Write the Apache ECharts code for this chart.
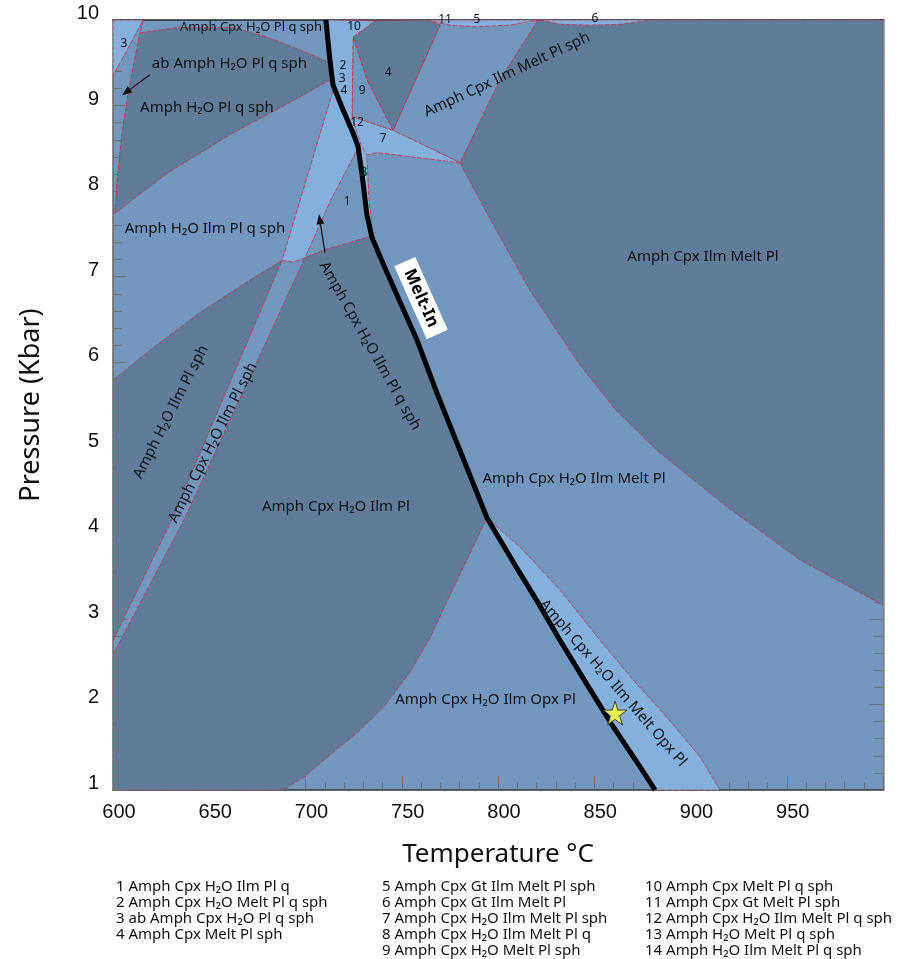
<!DOCTYPE html>
<html><head><meta charset="utf-8">
<script src="https://cdn.jsdelivr.net/npm/echarts@6/dist/echarts.min.js"></script>
<style>html,body{margin:0;padding:0;background:#fff}#c{width:898px;height:959px}</style>
</head><body><div id="c"></div>
<script>
// ---- tick labels ----
const xTickLabels = [600,650,700,750,800,850,900,950];
const yTickLabels = [1,2,3,4,5,6,7,8,9,10];

// ---- melt-in curve [T (°C), P (kbar)] ----
const meltIn = [[710.6,10],[712.7,9.53],[714.3,9.24],[719.5,8.95],[724.7,8.68],[727.3,8.52],[729.4,8.19],[731.9,7.72],[734.5,7.46],[741.3,7.10],[757.9,6.26],[768.3,5.64],[794.3,4.18],[809.4,3.61],[820.8,3.19],[832.2,2.75],[844.7,2.29],[858.7,1.78],[873.8,1.27],[881.6,1.0]];

// ---- phase field outlines [T, P] ----
const fieldAmphCpxIlmMeltPl = [[820.8,10],[801.0,9.30],[780.3,8.33],[794.3,7.74],[816.6,6.84],[841.6,6.00],[861.3,5.44],[882.6,4.97],[919.0,4.31],[956.9,3.69],[1000,3.16],[1000,10]];
const fieldAmphCpxIlmMeltPlSph = [[769.9,9.94],[769.9,10],[820.8,10],[801.0,9.30],[780.3,8.33],[763.1,8.52],[745.5,8.71]];
const field4 = [[724.7,9.80],[736.1,9.99],[763.1,10],[769.9,9.94],[745.5,8.71],[731.9,9.30]];
const field9 = [[724.7,9.80],[731.9,9.30],[745.5,8.71],[724.2,8.87]];
const fieldsNearMelt = [[710.6,10],[736.1,9.99],[724.7,9.80],[724.2,8.87],[745.5,8.71],[763.1,8.52],[780.3,8.33],[737.1,8.45],[731.9,8.42],[733.0,7.90],[735.1,7.46],[731.9,7.72],[729.4,8.19],[727.3,8.52],[724.7,8.68],[719.5,8.95],[714.3,9.24],[712.7,9.53]];
const lens5and11 = [[763.1,10],[775.1,9.94],[788.1,9.92],[806.2,9.94],[820.8,10]];
const lens6 = [[821.8,10],[832.2,9.95],[847.8,9.94],[863.4,9.95],[880.0,10]];
const fieldOpxMelt = [[794.3,4.18],[809.4,3.61],[820.8,3.19],[832.2,2.75],[844.7,2.29],[858.7,1.78],[873.8,1.27],[881.6,1.0],[915.3,1.0],[904.9,1.39],[887.8,1.85],[870.1,2.29],[853.0,2.75],[832.2,3.34],[811.4,3.84]];
const fieldAmphCpxH2OIlmPl = [[734.5,7.46],[741.3,7.10],[757.9,6.26],[768.3,5.64],[794.3,4.18],[785.5,3.77],[775.1,3.28],[764.7,2.78],[754.3,2.38],[741.3,1.99],[728.3,1.70],[712.7,1.41],[699.7,1.16],[688.3,1.0],[600,1],[600,2.58],[636.9,4.16],[668.1,5.68],[699.7,7.22],[709.1,7.31],[721.6,7.39],[731.9,7.46]];
const fieldAmphH2OIlmPlSph = [[600,5.79],[619.2,6.14],[645.2,6.58],[671.2,6.96],[687.8,7.19],[659.2,5.68],[630.6,4.16],[600,2.75]];
const fieldAmphCpxH2OIlmPlQSph = [[687.8,7.19],[693.5,7.17],[699.7,7.22],[713.2,7.90],[726.8,8.48],[724.7,8.68],[719.5,8.95],[714.8,9.21]];
const fieldAmphH2OPlQSph = [[614.0,9.85],[633.2,9.91],[662.3,9.91],[680.0,9.80],[697.1,9.65],[712.7,9.50],[714.3,9.32],[697.1,9.10],[662.3,8.68],[628.1,8.21],[601.0,7.74],[602.1,8.13],[604.7,8.68],[607.3,9.06],[610.4,9.45]];
const field3 = [[600,10],[615.6,10],[608.8,9.71],[601.0,9.39],[600,9.36]];
const extraBoundaries = [[[615.6,10],[614.0,9.85]],[[724.2,8.87],[728.8,8.54],[731.9,8.42]]];

const DARK = '#5f7d9b', MID = '#7197be', LIGHT = '#84b0dd';
const fields = [
  {pts: fieldAmphCpxIlmMeltPl, c: DARK},
  {pts: fieldAmphCpxIlmMeltPlSph, c: MID},
  {pts: field4, c: DARK},
  {pts: field9, c: MID},
  {pts: fieldsNearMelt, c: LIGHT},
  {pts: lens5and11, c: LIGHT},
  {pts: lens6, c: LIGHT},
  {pts: fieldOpxMelt, c: LIGHT},
  {pts: fieldAmphCpxH2OIlmPl, c: DARK},
  {pts: fieldAmphH2OIlmPlSph, c: DARK},
  {pts: fieldAmphCpxH2OIlmPlQSph, c: LIGHT},
  {pts: fieldAmphH2OPlQSph, c: DARK},
  {pts: field3, c: LIGHT}
];

// ---- labels [text, T, P, rotation°, size] ----
const fieldLabels = [
  ['Amph Cpx Ilm Melt Pl', 906.5, 7.23, 0, 15],
  ['Amph Cpx H\u2082O Ilm Melt Pl', 839.5, 4.64, 0, 15],
  ['Amph Cpx H\u2082O Ilm Pl', 715.8, 4.31, 0, 15],
  ['Amph Cpx H\u2082O Ilm Opx Pl', 793.5, 2.06, 0, 15],
  ['Amph H\u2082O Ilm Pl q sph', 647.8, 7.56, 0, 15],
  ['Amph H\u2082O Pl q sph', 648.8, 8.98, 0, 15],
  ['ab Amph H\u2082O Pl q sph', 660.5, 9.49, 0, 15],
  ['Amph Cpx H\u2082O Pl q sph', 671.7, 9.92, 0, 13],
  ['Amph Cpx Ilm Melt Pl sph', 804.7, 9.36, 25, 15],
  ['Amph Cpx H\u2082O Ilm Pl q sph', 733.5, 6.19, -60.5, 15],
  ['Amph H\u2082O Ilm Pl sph', 630.1, 5.42, 63, 15],
  ['Amph Cpx H\u2082O Ilm Pl sph', 651.9, 5.06, 63, 15],
  ['Amph Cpx H\u2082O Ilm Melt Opx Pl', 859.7, 2.25, -49, 15]
];
const numberLabels = [
  ['10',725.2,9.92],['11',772.5,10.01],['5',789.1,10.0],['6',850.4,10.02],['3',605.7,9.73],
  ['2',719.5,9.47],['3',719.0,9.31],['4',720.0,9.17],['9',729.4,9.18],['4',742.9,9.39],
  ['12',726.8,8.80],['7',740.3,8.61],['8',730.4,8.22],['1',721.6,7.88]
];
const meltInLabel = ['Melt-In', 760.0, 6.75, -66];
const arrows = [[[619.2,9.36],[604.7,9.12]], [[710.1,7.28],[707.0,7.73]]];
const starPoint = [[860.8, 1.90]];

const legendCol1 = ['1 Amph Cpx H\u2082O Ilm Pl q','2 Amph Cpx H\u2082O Melt Pl q sph','3 ab Amph Cpx H\u2082O Pl q sph','4 Amph Cpx Melt Pl sph'];
const legendCol2 = ['5 Amph Cpx Gt Ilm Melt Pl sph','6 Amph Cpx Gt Ilm Melt Pl','7 Amph Cpx H\u2082O Ilm Melt Pl sph','8 Amph Cpx H\u2082O Ilm Melt Pl q','9 Amph Cpx H\u2082O Melt Pl sph'];
const legendCol3 = ['10 Amph Cpx Melt Pl q sph','11 Amph Cpx Gt Melt Pl sph','12 Amph Cpx H\u2082O Ilm Melt Pl q sph','13 Amph H\u2082O Melt Pl q sph','14 Amph H\u2082O Ilm Melt Pl q sph'];

const FONT = '"Noto Sans", "DejaVu Sans", sans-serif';
const BORDER = '#c3303f';
const chart = echarts.init(document.getElementById('c'), null, {renderer: 'canvas'});
const STAR = 'path://M50,0 L61.8,35.4 L100,35.4 L69.1,57.3 L80.9,93.3 L50,71.4 L19.1,93.3 L30.9,57.3 L0,35.4 L38.2,35.4 Z';

chart.setOption({
  animation: false,
  grid: {left: 113, top: 20, width: 770, height: 770, show: true, backgroundColor: MID, borderWidth: 0},
  xAxis: [{
    type: 'value', min: 600, max: 1000, interval: 50, position: 'bottom',
    axisLine: {show: true, lineStyle: {color: '#333', width: 1.5}},
    axisTick: {show: true, inside: true, length: 14, lineStyle: {color: '#6d6d6d', width: 1}},
    minorTick: {show: true, splitNumber: 5, length: 8, lineStyle: {color: '#6d6d6d', width: 1}},
    splitLine: {show: false}, minorSplitLine: {show: false},
    axisLabel: {formatter: v => xTickLabels.indexOf(v) >= 0 ? String(v) : '', fontSize: 20, fontFamily: '"Liberation Sans", Arial, sans-serif', color: '#111', margin: 12, padding: [0,0,0,12]},
    name: 'Temperature °C', nameLocation: 'middle', nameGap: 52,
    nameTextStyle: {fontSize: 26, fontFamily: FONT, color: '#111'}
  }, {
    type: 'value', min: 600, max: 1000, position: 'top',
    axisLine: {show: true, lineStyle: {color: '#222', width: 1.5}},
    axisTick: {show: false}, axisLabel: {show: false}, splitLine: {show: false}
  }],
  yAxis: [{
    type: 'value', min: 1, max: 10, interval: 1, position: 'left',
    axisLine: {show: true, lineStyle: {color: '#666', width: 1.5}},
    axisTick: {show: true, inside: true, length: 14, lineStyle: {color: '#6d6d6d', width: 1}},
    minorTick: {show: true, splitNumber: 5, length: 9, lineStyle: {color: '#6d6d6d', width: 1}},
    splitLine: {show: false}, minorSplitLine: {show: false},
    axisLabel: {formatter: v => yTickLabels.indexOf(v) >= 0 ? String(v) : '', fontSize: 20, fontFamily: '"Liberation Sans", Arial, sans-serif', color: '#111', margin: 14, verticalAlign: 'bottom', lineHeight: 13},
    name: 'Pressure (Kbar)', nameLocation: 'middle', nameGap: 68, nameRotate: 90,
    nameTextStyle: {fontSize: 27, fontFamily: FONT, color: '#111'}
  }, {
    type: 'value', min: 1, max: 10, interval: 1, position: 'right',
    axisLine: {show: true, lineStyle: {color: '#888', width: 2.5}},
    axisTick: {show: true, inside: true, length: 14, lineStyle: {color: '#6d6d6d', width: 1}},
    minorTick: {show: true, splitNumber: 5, length: 9, lineStyle: {color: '#6d6d6d', width: 1}},
    axisLabel: {show: false}, splitLine: {show: false}
  }],
  graphic: [
    {type: 'text', left: 116, top: 879, style: {text: legendCol1.join('\n'), font: '15px ' + FONT, fill: '#111', lineHeight: 16}},
    {type: 'text', left: 382, top: 879, style: {text: legendCol2.join('\n'), font: '15px ' + FONT, fill: '#111', lineHeight: 16}},
    {type: 'text', left: 645, top: 879, style: {text: legendCol3.join('\n'), font: '15px ' + FONT, fill: '#111', lineHeight: 16}}
  ],
  series: [
    {
      type: 'custom', name: 'fields', z: 1, clip: true,
      data: fields.map((f, i) => [f.pts[0][0], f.pts[0][1], i]),
      renderItem: (params, api) => {
        const f = fields[api.value(2)];
        return {type: 'polygon', shape: {points: f.pts.map(p => api.coord(p))},
          style: {fill: f.c, stroke: BORDER, lineWidth: 0.8, lineDash: [5, 1.5]}};
      }
    },
    {
      type: 'custom', name: 'boundaries', z: 2, clip: true,
      data: extraBoundaries.map((b, i) => [b[0][0], b[0][1], i]),
      renderItem: (params, api) => {
        const b = extraBoundaries[api.value(2)];
        return {type: 'polyline', shape: {points: b.map(p => api.coord(p))},
          style: {fill: null, stroke: BORDER, lineWidth: 0.8, lineDash: [5, 1.5]}};
      }
    },
    {
      type: 'line', name: 'Melt-In', z: 3, data: meltIn, showSymbol: false, symbol: 'none',
      lineStyle: {color: '#000', width: 5, join: 'round'}, clip: true
    },
    {
      type: 'custom', name: 'arrows', z: 4,
      data: arrows.map((a, i) => [a[0][0], a[0][1], i]),
      renderItem: (params, api) => {
        const a = arrows[api.value(2)];
        const p0 = api.coord(a[0]), p1 = api.coord(a[1]);
        const dx = p1[0] - p0[0], dy = p1[1] - p0[1], L = Math.hypot(dx, dy);
        const ux = dx / L, uy = dy / L, hl = 10, hw = 4;
        const bx = p1[0] - ux * hl, by = p1[1] - uy * hl;
        return {type: 'group', children: [
          {type: 'line', shape: {x1: p0[0], y1: p0[1], x2: bx, y2: by}, style: {stroke: '#1a0d0d', lineWidth: 1.2}},
          {type: 'polygon', shape: {points: [[p1[0], p1[1]], [bx - uy * hw, by + ux * hw], [bx + uy * hw, by - ux * hw]]}, style: {fill: '#1a0d0d'}}
        ]};
      }
    },
    {
      type: 'custom', name: 'fieldLabels', z: 5,
      data: fieldLabels.map((l, i) => [l[1], l[2], i]),
      renderItem: (params, api) => {
        const l = fieldLabels[api.value(2)];
        const p = api.coord([l[1], l[2]]);
        return {type: 'text', x: p[0], y: p[1], rotation: l[3] * Math.PI / 180,
          style: {text: l[0], font: l[4] + 'px ' + FONT, fill: '#111', align: 'center', verticalAlign: 'middle'}};
      }
    },
    {
      type: 'custom', name: 'numberLabels', z: 5,
      data: numberLabels.map((l, i) => [l[1], l[2], i]),
      renderItem: (params, api) => {
        const l = numberLabels[api.value(2)];
        const p = api.coord([l[1], l[2]]);
        return {type: 'text', x: p[0], y: p[1],
          style: {text: l[0], font: '12px ' + FONT, fill: '#111', align: 'center', verticalAlign: 'middle'}};
      }
    },
    {
      type: 'custom', name: 'meltInLabel', z: 6,
      data: [[meltInLabel[1], meltInLabel[2]]],
      renderItem: (params, api) => {
        const p = api.coord([meltInLabel[1], meltInLabel[2]]);
        return {type: 'text', x: p[0], y: p[1], rotation: meltInLabel[3] * Math.PI / 180,
          style: {text: meltInLabel[0], font: 'bold 17px ' + FONT, fill: '#000', align: 'center', verticalAlign: 'middle',
            backgroundColor: '#fff', padding: [3, 9]}};
      }
    },
    {
      type: 'scatter', name: 'sample', z: 7, data: starPoint, symbol: STAR, symbolSize: 24,
      itemStyle: {color: '#ffff2e', borderColor: '#222', borderWidth: 1}
    }
  ]
});
</script>
</body></html>
